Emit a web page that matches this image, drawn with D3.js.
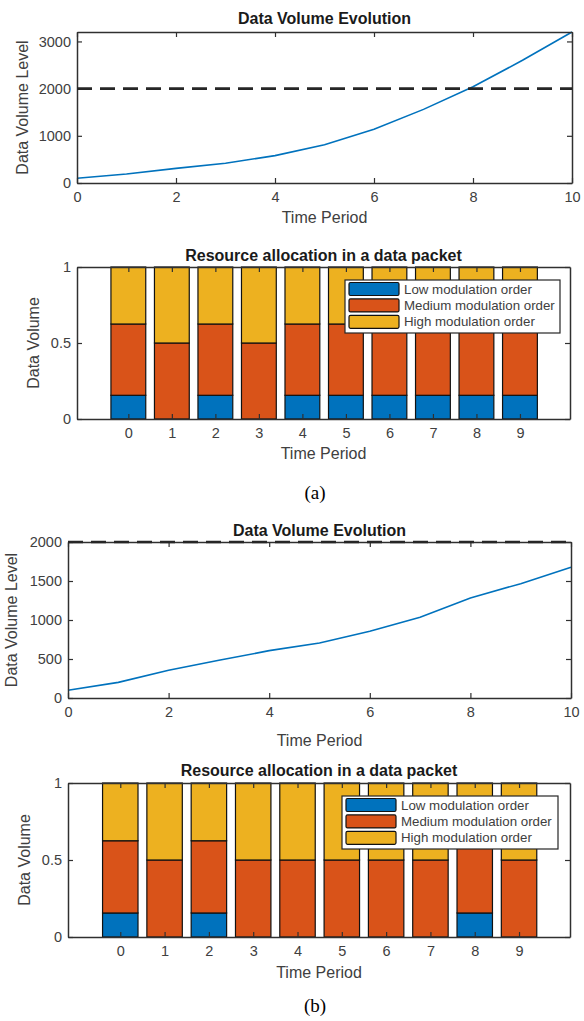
<!DOCTYPE html>
<html>
<head>
<meta charset="utf-8">
<script src="https://cdnjs.cloudflare.com/ajax/libs/d3/7.8.5/d3.min.js"></script>
<style>
body { margin: 0; background: #fff; }
svg text { font-family: "Liberation Sans", Arial, sans-serif; }
.tick text { fill: #404040; font-size: 14.5px; }
.domain { stroke: #303030; stroke-width: 1.5px; }
.tick line { stroke: #303030; stroke-width: 1.2px; }
</style>
</head>
<body>
<script>
// time axis of the line plots
var periods = [0, 1, 2, 3, 4, 5, 6, 7, 8, 9, 10];
var volumeA = [100, 190, 310, 420, 580, 810, 1140, 1560, 2040, 2600, 3200];
var volumeB = [100, 200, 355, 483, 607, 705, 855, 1034, 1282, 1466, 1675];
var threshold = 2000;

// bar plots: share of each modulation order per packet slot
var slots = [0, 1, 2, 3, 4, 5, 6, 7, 8, 9];
var lowA  = [0.156, 0, 0.156, 0, 0.156, 0.156, 0.156, 0.156, 0.156, 0.156];
var medA  = [0.469, 0.5, 0.469, 0.5, 0.469, 0.469, 0.469, 0.469, 0.469, 0.469];
var highA = [0.375, 0.5, 0.375, 0.5, 0.375, 0.375, 0.375, 0.375, 0.375, 0.375];
var lowB  = [0.156, 0, 0.156, 0, 0, 0, 0, 0, 0.156, 0];
var medB  = [0.469, 0.5, 0.469, 0.5, 0.5, 0.5, 0.5, 0.5, 0.469, 0.5];
var highB = [0.375, 0.5, 0.375, 0.5, 0.5, 0.5, 0.5, 0.5, 0.375, 0.5];

var seriesNames = ["Low modulation order", "Medium modulation order", "High modulation order"];
var colors = ["#0072BD", "#D95319", "#EDB120"];

var svg = d3.select("body").append("svg")
    .attr("width", 584).attr("height", 1021);

function frame(g, x, y, xTicks, yTicks, fmtY) {
  g.append("g").attr("transform", "translate(0," + y.range()[0] + ")")
    .call(d3.axisBottom(x).tickValues(xTicks).tickSizeInner(-5).tickSizeOuter(0).tickPadding(9));
  g.append("g").attr("transform", "translate(" + x.range()[0] + ",0)")
    .call(d3.axisLeft(y).tickValues(yTicks).tickFormat(fmtY).tickSizeInner(-5).tickSizeOuter(0).tickPadding(6));
  g.append("g").attr("transform", "translate(0," + y.range()[1] + ")")
    .call(d3.axisTop(x).tickValues(xTicks).tickFormat("").tickSizeInner(-5).tickSizeOuter(0));
  g.append("g").attr("transform", "translate(" + x.range()[1] + ",0)")
    .call(d3.axisRight(y).tickValues(yTicks).tickFormat("").tickSizeInner(-5).tickSizeOuter(0));
}

function labels(g, x, y, title, ytitle, ylabX, xlabY, titleY) {
  var cx = (x.range()[0] + x.range()[1]) / 2;
  var cy = (y.range()[0] + y.range()[1]) / 2;
  g.append("text").attr("x", cx).attr("y", titleY).attr("text-anchor", "middle")
    .style("font-size", "16px").style("font-weight", "bold").style("fill", "#1a1a1a").text(title);
  g.append("text").attr("x", cx).attr("y", xlabY).attr("text-anchor", "middle")
    .style("font-size", "16px").style("fill", "#404040").text("Time Period");
  g.append("text").attr("transform", "translate(" + ylabX + "," + cy + ") rotate(-90)")
    .attr("text-anchor", "middle").style("font-size", "16px").style("fill", "#404040").text(ytitle);
}

function lineChart(box, values, ymax, yTicks) {
  var g = svg.append("g");
  var x = d3.scaleLinear().domain([0, 10]).range([box.l, box.r]);
  var y = d3.scaleLinear().domain([0, ymax]).range([box.b, box.t]);

  g.append("path").datum(periods)
    .attr("fill", "none").attr("stroke", "#0072BD").attr("stroke-width", 1.6)
    .attr("d", d3.line().x(function(d){ return x(d); }).y(function(d, i){ return y(values[i]); }));

  frame(g, x, y, [0, 2, 4, 6, 8, 10], yTicks, d3.format("d"));

  g.append("line").attr("x1", x(0)).attr("x2", x(10))
    .attr("y1", y(threshold)).attr("y2", y(threshold))
    .attr("stroke", "#262626").attr("stroke-width", 2.6).attr("stroke-dasharray", "15,8");

  labels(g, x, y, "Data Volume Evolution", "Data Volume Level", box.yl, box.xl, box.tt);
}

function barChart(box, low, med, high, leg) {
  var g = svg.append("g");
  var x = d3.scaleLinear().domain([-1.18, 10.15]).range([box.l, box.r]);
  var y = d3.scaleLinear().domain([0, 1]).range([box.b, box.t]);
  var rows = slots.map(function(s, i){ return {slot: s, low: low[i], med: med[i], high: high[i]}; });
  var stack = d3.stack().keys(["low", "med", "high"])(rows);
  var bw = x(0.4) - x(-0.4);

  stack.forEach(function(layer, k) {
    g.selectAll(null).data(layer.filter(function(d){ return d[1] - d[0] > 0; })).enter().append("rect")
      .attr("x", function(d){ return x(d.data.slot) - bw / 2; })
      .attr("y", function(d){ return y(d[1]); })
      .attr("width", bw)
      .attr("height", function(d){ return y(d[0]) - y(d[1]); })
      .attr("fill", colors[k]).attr("stroke", "#111").attr("stroke-width", 1.2);
  });

  frame(g, x, y, slots, [0, 0.5, 1], function(d){ return d === 0.5 ? "0.5" : d3.format("d")(d); });
  labels(g, x, y, "Resource allocation in a data packet", "Data Volume", box.yl, box.xl, box.tt);

  // legend
  var lg = g.append("g");
  lg.append("rect").attr("x", leg.l).attr("y", leg.t).attr("width", leg.r - leg.l)
    .attr("height", leg.b - leg.t).attr("fill", "#fff").attr("stroke", "#262626").attr("stroke-width", 1.2);
  seriesNames.forEach(function(name, k) {
    var cy = leg.t + 9 + k * 16.4;
    lg.append("rect").attr("x", leg.l + 4).attr("y", cy - 6.5).attr("width", 50).attr("height", 13)
      .attr("fill", colors[k]).attr("stroke", "#111").attr("stroke-width", 1.2).attr("rx", 1.5);
    lg.append("text").attr("x", leg.l + 59).attr("y", cy + 4.5)
      .style("font-size", "13.3px").style("fill", "#404040").text(name);
  });
}

lineChart({l: 77, r: 572, t: 32, b: 183, yl: 28, xl: 223, tt: 24}, volumeA, 3200, [0, 1000, 2000, 3000]);
barChart({l: 77, r: 570, t: 267, b: 419, yl: 39, xl: 459, tt: 261}, lowA, medA, highA,
  {l: 345, r: 560, t: 280, b: 333});
lineChart({l: 68, r: 571, t: 542, b: 698, yl: 17, xl: 746, tt: 536}, volumeB, 2000, [0, 500, 1000, 1500, 2000]);
barChart({l: 68, r: 570, t: 783, b: 937, yl: 30, xl: 978, tt: 776}, lowB, medB, highB,
  {l: 342, r: 558, t: 796, b: 849});

svg.append("text").attr("x", 315).attr("y", 499).attr("text-anchor", "middle")
  .style("font-family", "'Liberation Serif', 'Times New Roman', serif").style("font-size", "19px").text("(a)");
svg.append("text").attr("x", 315).attr("y", 1012).attr("text-anchor", "middle")
  .style("font-family", "'Liberation Serif', 'Times New Roman', serif").style("font-size", "19px").text("(b)");
</script>
</body>
</html>
